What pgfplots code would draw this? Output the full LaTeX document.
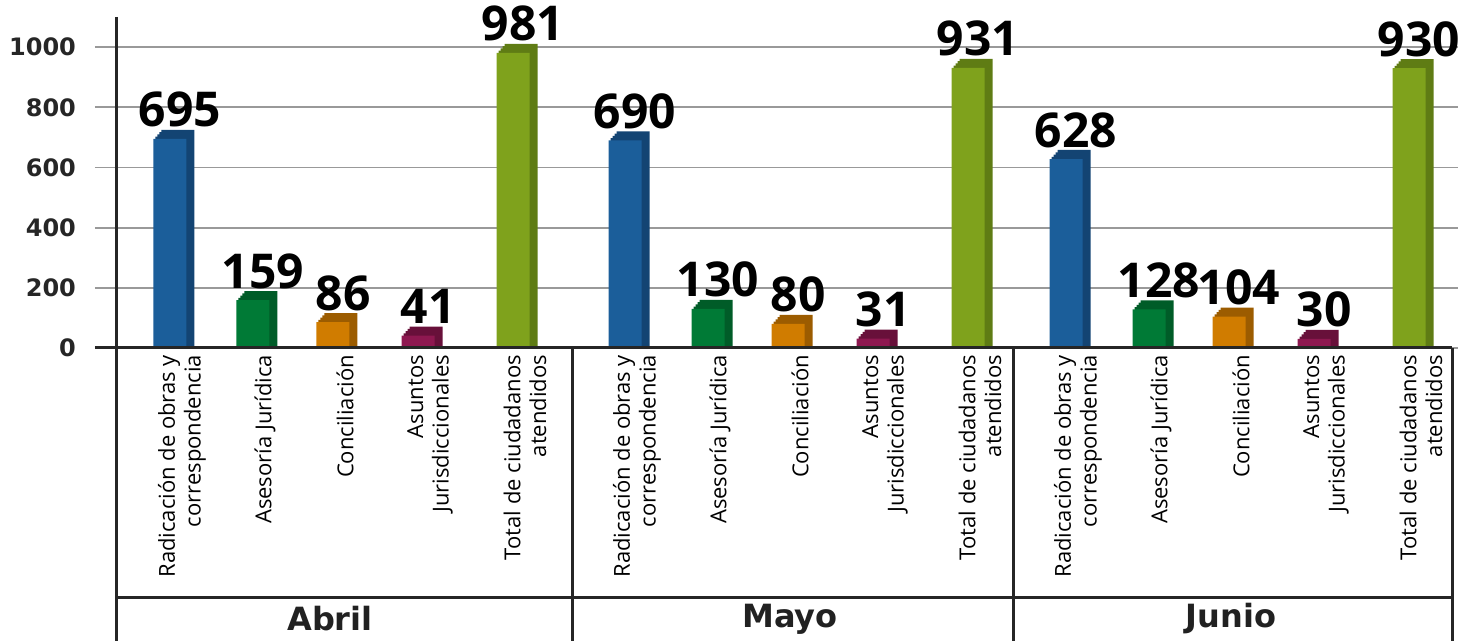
\documentclass[border=0pt]{standalone}
\usepackage{fontspec}
\setmainfont{Open Sans}
\newfontfamily\dejavu{DejaVu Sans}
\usepackage{pgfplots}
\usepackage{pgfplotstable}
\pgfplotsset{compat=1.18}

% front face / darker side face
\definecolor{bluF}{RGB}{27,94,154}   \definecolor{bluS}{RGB}{19,68,115}
\definecolor{grnF}{RGB}{0,122,54}    \definecolor{grnS}{RGB}{0,92,40}
\definecolor{orgF}{RGB}{208,124,0}   \definecolor{orgS}{RGB}{156,92,0}
\definecolor{marF}{RGB}{142,24,80}   \definecolor{marS}{RGB}{104,16,58}
\definecolor{oliF}{RGB}{127,162,28}  \definecolor{oliS}{RGB}{95,124,20}

% start = left edge of each month block (x unit = 50pt)
\pgfplotstableread{
mes   start radic asesoria concil asuntos total
Abril 0     695   159      86     41      981
Mayo  4.55  690   130      80     31      931
Junio 8.96  628   128      104    30      930
}\datos

% one category: depth drawn as stepped copies behind the front face
% #1 column, #2 offset in block, #3 front colour, #4 side colour
\newcommand{\caja}[4]{%
  \pgfplotsinvokeforeach{4,3,2,1}{%
    \addplot[fill=#4, draw=none, bar shift=##1pt, forget plot]
      table[x expr=\thisrow{start}+#2, y expr=\thisrow{#1}+7.5*##1] {\datos};
  }
  \addplot[fill=#3, draw=none, bar shift=0pt, nodes near coords, point meta=explicit symbolic]
    table[x expr=\thisrow{start}+#2, y=#1, meta=#1] {\datos};
}

\begin{document}
\begin{tikzpicture}
\begin{axis}[
    scale only axis,
    width=681.5pt, height=165.5pt,
    xmin=-0.22, xmax=13.41,
    ymin=0, ymax=1100,
    ybar, bar width=16.5pt,
    clip=false,
    axis line style={draw=none},
    tick style={draw=none},
    major tick length=0pt,
    ymajorgrids,
    grid style={draw=black!40, line width=0.9pt},
    ytick={0,200,400,600,800,1000},
    yticklabels={0,200,400,600,800,1000},
    yticklabel style={font=\dejavu\fontsize{12}{12}\selectfont\bfseries,
        text=black!85, anchor=east, xshift=-6pt},
    xtick={0.53,1.36,2.16,3.01,3.96,5.08,5.91,6.71,7.56,8.51,9.49,10.32,11.12,11.97,12.92},
    xticklabels={
      {Radicación de obras y\\correspondencia},{Asesoría Jurídica},{Conciliación},{Asuntos\\Jurisdiccionales},{Total de ciudadanos\\atendidos},
      {Radicación de obras y\\correspondencia},{Asesoría Jurídica},{Conciliación},{Asuntos\\Jurisdiccionales},{Total de ciudadanos\\atendidos},
      {Radicación de obras y\\correspondencia},{Asesoría Jurídica},{Conciliación},{Asuntos\\Jurisdiccionales},{Total de ciudadanos\\atendidos}},
    xticklabel style={rotate=90, anchor=east, align=right,
        font=\fontsize{11}{12.8}\selectfont, yshift=-6pt},
    every node near coord/.append style={anchor=base, inner sep=0pt,
        yshift=6pt, xshift=5pt, font=\fontsize{24}{24}\selectfont\bfseries},
  ]
  \caja{radic}{0.53}{bluF}{bluS}
  \caja{asesoria}{1.36}{grnF}{grnS}
  \caja{concil}{2.16}{orgF}{orgS}
  \caja{asuntos}{3.01}{marF}{marS}
  \caja{total}{3.96}{oliF}{oliS}

  % axis lines and the table below
  \draw[line width=1.5pt, black!85] (axis cs:0,1100) -- (axis cs:0,0) -- ++(0pt,-146.5pt);
  \draw[line width=1.5pt, black!85] (axis cs:-0.22,0) -- (axis cs:13.35,0);
  \draw[line width=1.5pt, black!85] (axis cs:4.55,0) -- ++(0pt,-146.5pt);
  \draw[line width=1.5pt, black!85] (axis cs:8.96,0) -- ++(0pt,-146.5pt);
  \draw[line width=1.5pt, black!85] (axis cs:13.35,0) -- ++(0pt,-146.5pt);
  \draw[line width=1.5pt, black!85] ([yshift=-125pt]axis cs:0,0) -- ([yshift=-125pt]axis cs:13.35,0);

  \node[font=\dejavu\fontsize{16}{16}\selectfont\bfseries, text=black!87] at ([yshift=-135.5pt]axis cs:2.13,0) {Abril};
  \node[font=\dejavu\fontsize{16}{16}\selectfont\bfseries, text=black!87] at ([yshift=-135.5pt]axis cs:6.73,0) {Mayo};
  \node[font=\dejavu\fontsize{16}{16}\selectfont\bfseries, text=black!87] at ([yshift=-135.5pt]axis cs:11.14,0) {Junio};

  \coordinate (bl) at (axis cs:-0.22,0);
\end{axis}
\pgfresetboundingbox
\path (bl) ++(-47.5pt,-146.5pt) rectangle ++(737pt,320.5pt);
\end{tikzpicture}
\end{document}
